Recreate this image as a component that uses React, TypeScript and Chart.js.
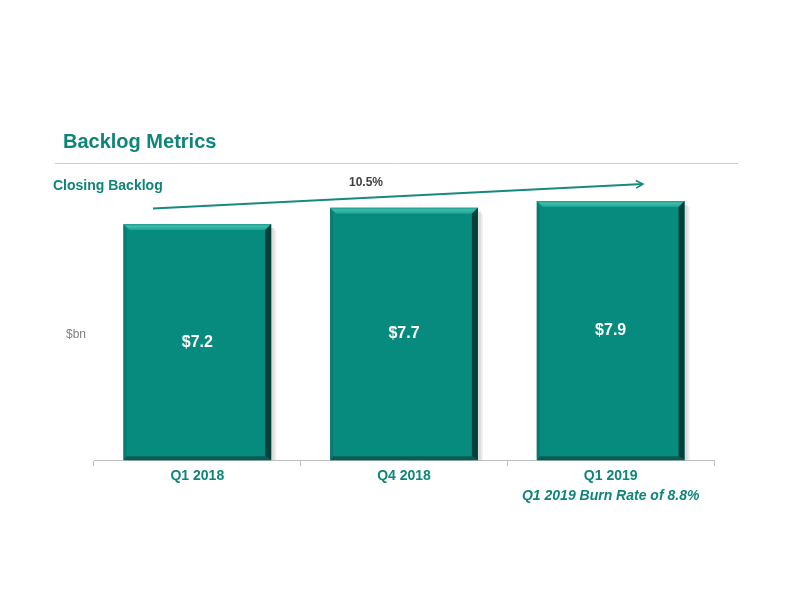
import React, { useEffect, useRef } from "react";
import { Chart, registerables } from "chart.js";

Chart.register(...registerables);

const categories = ["Q1 2018", "Q4 2018", "Q1 2019"];
const backlogValues = [7.2, 7.7, 7.9];
const valueLabels = ["$7.2", "$7.7", "$7.9"];
const titleText = "Backlog Metrics";
const subtitleText = "Closing Backlog";
const growthText = "10.5%";
const unitText = "$bn";
const burnRateText = "Q1 2019 Burn Rate of 8.8%";

const TEAL = "#0E8579";
const BAR = "#078B7F";
const FONT = "'Liberation Sans', Arial, sans-serif";

const decorPlugin = {
  id: "decor",
  beforeDatasetsDraw(chart: any) {
    const ctx = chart.ctx;
    const meta = chart.getDatasetMeta(0);
    ctx.save();
    meta.data.forEach((bar: any) => {
      const r = bar.x + bar.width / 2;
      const t = bar.y;
      const b = bar.base;
      ctx.fillStyle = "rgba(120,110,115,0.25)";
      ctx.fillRect(r, t + 4, 3, b - t - 4);
      ctx.fillStyle = "rgba(120,110,115,0.12)";
      ctx.fillRect(r + 3, t + 6, 2, b - t - 6);
    });
    ctx.restore();
  },
  afterDatasetsDraw(chart: any) {
    const ctx = chart.ctx;
    const meta = chart.getDatasetMeta(0);
    ctx.save();
    meta.data.forEach((bar: any, i: number) => {
      const l = bar.x - bar.width / 2;
      const r = bar.x + bar.width / 2;
      const t = bar.y;
      const b = bar.base;
      const e = 6;
      // top bevel
      const g = ctx.createLinearGradient(0, t, 0, t + e);
      g.addColorStop(0, "#1E9C8E");
      g.addColorStop(0.4, "#3DBCAB");
      g.addColorStop(1, "#1AA392");
      ctx.fillStyle = g;
      ctx.beginPath();
      ctx.moveTo(l, t);
      ctx.lineTo(r, t);
      ctx.lineTo(r - e, t + e);
      ctx.lineTo(l + e, t + e);
      ctx.closePath();
      ctx.fill();
      // left bevel
      ctx.fillStyle = "#0B7B71";
      ctx.beginPath();
      ctx.moveTo(l, t);
      ctx.lineTo(l + 3, t + e);
      ctx.lineTo(l + 3, b - 4);
      ctx.lineTo(l, b);
      ctx.closePath();
      ctx.fill();
      // right bevel
      ctx.fillStyle = "#043F3A";
      ctx.beginPath();
      ctx.moveTo(r, t);
      ctx.lineTo(r - e, t + e);
      ctx.lineTo(r - e, b - 4);
      ctx.lineTo(r, b);
      ctx.closePath();
      ctx.fill();
      // bottom bevel
      ctx.fillStyle = "#065C55";
      ctx.beginPath();
      ctx.moveTo(l, b);
      ctx.lineTo(l + 3, b - 4);
      ctx.lineTo(r - e, b - 4);
      ctx.lineTo(r, b);
      ctx.closePath();
      ctx.fill();
      // value label
      ctx.fillStyle = "#FFFFFF";
      ctx.font = `bold 16px ${FONT}`;
      ctx.textAlign = "center";
      ctx.textBaseline = "middle";
      ctx.fillText(valueLabels[i], bar.x, (t + b) / 2);
    });
    ctx.restore();
  },
  afterDraw(chart: any) {
    const ctx = chart.ctx;
    const xs = chart.scales.x;
    ctx.save();
    ctx.fillStyle = TEAL;
    ctx.font = `bold 20px ${FONT}`;
    ctx.textAlign = "left";
    ctx.textBaseline = "middle";
    ctx.fillText(titleText, 63, 142);
    ctx.strokeStyle = "#CCCCCC";
    ctx.lineWidth = 1;
    ctx.beginPath();
    ctx.moveTo(55, 163.5);
    ctx.lineTo(738, 163.5);
    ctx.stroke();
    ctx.font = `bold 14px ${FONT}`;
    ctx.fillText(subtitleText, 53, 186);
    ctx.fillStyle = "#808080";
    ctx.font = `12px ${FONT}`;
    ctx.fillText(unitText, 66, 335);
    const x0 = 153, y0 = 208.5, x1 = 643, y1 = 184;
    ctx.strokeStyle = "#168A7D";
    ctx.lineWidth = 2;
    ctx.beginPath();
    ctx.moveTo(x0, y0);
    ctx.lineTo(x1, y1);
    ctx.stroke();
    const ang = Math.atan2(y1 - y0, x1 - x0);
    ctx.lineWidth = 1.6;
    ctx.beginPath();
    ctx.moveTo(x1 - 8 * Math.cos(ang - 0.5), y1 - 8 * Math.sin(ang - 0.5));
    ctx.lineTo(x1, y1);
    ctx.lineTo(x1 - 8 * Math.cos(ang + 0.5), y1 - 8 * Math.sin(ang + 0.5));
    ctx.stroke();
    ctx.fillStyle = "#404040";
    ctx.font = `bold 12px ${FONT}`;
    ctx.textAlign = "center";
    ctx.fillText(growthText, 366, 183);
    ctx.fillStyle = TEAL;
    ctx.font = `italic bold 14px ${FONT}`;
    ctx.fillText(burnRateText, xs.getPixelForValue(2), 496);
    ctx.restore();
  },
};

export default function App() {
  const ref = useRef<HTMLCanvasElement>(null);
  useEffect(() => {
    if (!ref.current) return;
    const chart = new Chart(ref.current, {
      type: "bar",
      data: {
        labels: categories,
        datasets: [
          {
            data: backlogValues,
            backgroundColor: BAR,
            borderWidth: 0,
            categoryPercentage: 1,
            barPercentage: 0.715,
          },
        ],
      },
      options: {
        responsive: false,
        animation: false,
        layout: { padding: { left: 94, right: 78, top: 165, bottom: 125 } },
        plugins: { legend: { display: false }, tooltip: { enabled: false } },
        scales: {
          x: {
            grid: {
              offset: true,
              drawOnChartArea: false,
              tickLength: 6,
              color: "#BFBFBF",
            },
            border: { color: "#BFBFBF" },
            ticks: {
              padding: 2,
              color: TEAL,
              font: { family: FONT, size: 14, weight: "bold" },
            },
          },
          y: { display: false, min: 0, max: 9 },
        },
      },
      plugins: [decorPlugin],
    });
    return () => chart.destroy();
  }, []);
  return (
    <div style={{ position: "absolute", left: 0, top: 0, width: 792, height: 612, background: "#fff" }}>
      <canvas ref={ref} width={792} height={612} style={{ width: 792, height: 612 }} />
    </div>
  );
}
